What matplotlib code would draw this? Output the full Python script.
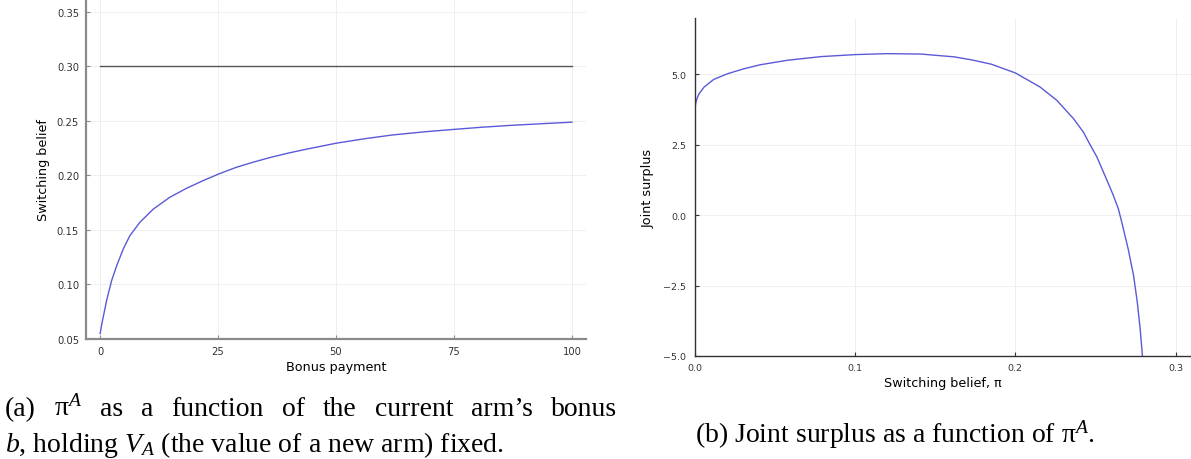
import numpy as np
import matplotlib
matplotlib.use("Agg")
import matplotlib.pyplot as plt

# values
bonus = [0, 0.3, 0.67, 1.38, 2.43, 3.49, 4.9, 6.3, 8.43, 11.25, 14.77, 18.3,
         21.8, 25.4, 28.9, 32.4, 36, 40, 44, 50, 56, 62, 68.5, 75, 81, 87.5,
         94, 100]
switch_belief = [0.055, 0.0625, 0.0705, 0.0855, 0.1035, 0.117, 0.1325, 0.1447,
                 0.157, 0.169, 0.1799, 0.1881, 0.1951, 0.2017, 0.2074, 0.212,
                 0.2163, 0.2205, 0.2242, 0.2294, 0.2335, 0.237, 0.2398, 0.2421,
                 0.2441, 0.2459, 0.2474, 0.2487]
threshold_x = [0, 100]
threshold_y = [0.30, 0.30]

pi_vals = [0.0, 0.0002, 0.0007, 0.0014, 0.0028, 0.006, 0.012, 0.0205, 0.031,
           0.041, 0.058, 0.079, 0.100, 0.120, 0.141, 0.162, 0.173, 0.185,
           0.200, 0.2154, 0.2258, 0.2362, 0.2424, 0.2466, 0.2508, 0.2549,
           0.258, 0.2611, 0.2642, 0.2663, 0.2703, 0.2737, 0.2760, 0.2778,
           0.2792, 0.2796]
surplus = [3.54, 3.75, 3.96, 4.12, 4.31, 4.55, 4.82, 5.02, 5.20, 5.34, 5.50,
           5.63, 5.70, 5.735, 5.72, 5.62, 5.51, 5.36, 5.05, 4.55, 4.08, 3.43,
           2.95, 2.50, 2.07, 1.53, 1.12, 0.70, 0.23, -0.24, -1.19, -2.14,
           -3.08, -4.03, -4.98, -5.3]

left_xticks = [0, 25, 50, 75, 100]
left_yticks = [0.05, 0.10, 0.15, 0.20, 0.25, 0.30, 0.35]
right_xticks = [0.0, 0.1, 0.2, 0.3]
right_yticks = [-5.0, -2.5, 0.0, 2.5, 5.0]

caption_a1 = ['(a)', '\u03c0$^{A}$', 'as', 'a', 'function', 'of', 'the',
              'current', 'arm\u2019s', 'bonus']
caption_a2 = '$b$, holding $V_A$ (the value of a new arm) fixed.'
caption_b = '(b) Joint surplus as a function of \u03c0$^{A}$.'

plt.rcParams['mathtext.fontset'] = 'custom'
plt.rcParams['mathtext.rm'] = 'Liberation Serif'
plt.rcParams['mathtext.it'] = 'Liberation Serif:italic'

W, H = 1191, 460
fig = plt.figure(figsize=(W / 100, H / 100), dpi=100)

blue = '#5a5ad8'
grid_c = '#ececec'


def style_axes(ax, spine_c, spine_w, tick_size):
    for s in ['top', 'right']:
        ax.spines[s].set_visible(False)
    for s in ['left', 'bottom']:
        ax.spines[s].set_color(spine_c)
        ax.spines[s].set_linewidth(spine_w)
    ax.tick_params(direction='in', length=3, width=0.8, color=spine_c,
                   labelsize=tick_size, labelcolor='#333333', pad=5)
    ax.grid(True, color=grid_c, linewidth=0.6)
    ax.set_axisbelow(True)


# (a) switching belief vs bonus
ax1 = fig.add_axes([86 / W, (H - 340) / H, 500 / W, 340 / H])
ax1.plot(threshold_x, threshold_y, color='#555555', linewidth=1.0)
ax1.plot(bonus, switch_belief, color=blue, linewidth=1.0)
ax1.set_xlim(-3, 103)
ax1.set_ylim(0.05, 0.3616)
ax1.set_xticks(left_xticks)
ax1.set_xticklabels([str(t) for t in left_xticks])
ax1.set_yticks(left_yticks)
ax1.set_yticklabels(['%.2f' % t for t in left_yticks])
style_axes(ax1, '#8a8a8a', 1.6, 7.2)
ax1.set_xlabel('Bonus payment', fontsize=9.2, labelpad=3)
ax1.set_ylabel('Switching belief', fontsize=9.2, labelpad=5)

# (b) joint surplus vs switching belief
ax2 = fig.add_axes([694.5 / W, (H - 357) / H, (W - 694.5) / W, 338 / H])
ax2.plot(pi_vals, surplus, color=blue, linewidth=1.0)
ax2.set_xlim(0, 0.3095)
ax2.set_ylim(-5, 7)
ax2.set_xticks(right_xticks)
ax2.set_xticklabels(['%.1f' % t for t in right_xticks])
ax2.set_yticks(right_yticks)
ax2.set_yticklabels([('%.1f' % t).replace('-', '\u2212') for t in right_yticks])
style_axes(ax2, '#333333', 1.0, 6.8)
ax2.tick_params(axis='y', pad=6)
ax2.set_xlabel('Switching belief, \u03c0', fontsize=9.2, labelpad=3)
ax2.set_ylabel('Joint surplus', fontsize=9.2, labelpad=6)

# captions (first line of (a) is justified like the LaTeX paragraph)
cap = dict(fontsize=20, family='Liberation Serif', color='black',
           ha='left', va='baseline')
renderer = fig.canvas.get_renderer()
words = [fig.text(0, 1 - 416 / H, w, **cap) for w in caption_a1]
widths = [t.get_window_extent(renderer).width for t in words]
x0, x1 = 5, 617
gap = (x1 - x0 - sum(widths)) / (len(words) - 1)
x = x0
for t, w in zip(words, widths):
    t.set_x(x / W)
    x += w + gap
fig.text(5 / W, 1 - 452 / H, caption_a2, **cap)
cap['ha'] = 'center'
fig.text(895 / W, 1 - 443 / H, caption_b, **cap)

fig.savefig('out.png', dpi=100)
